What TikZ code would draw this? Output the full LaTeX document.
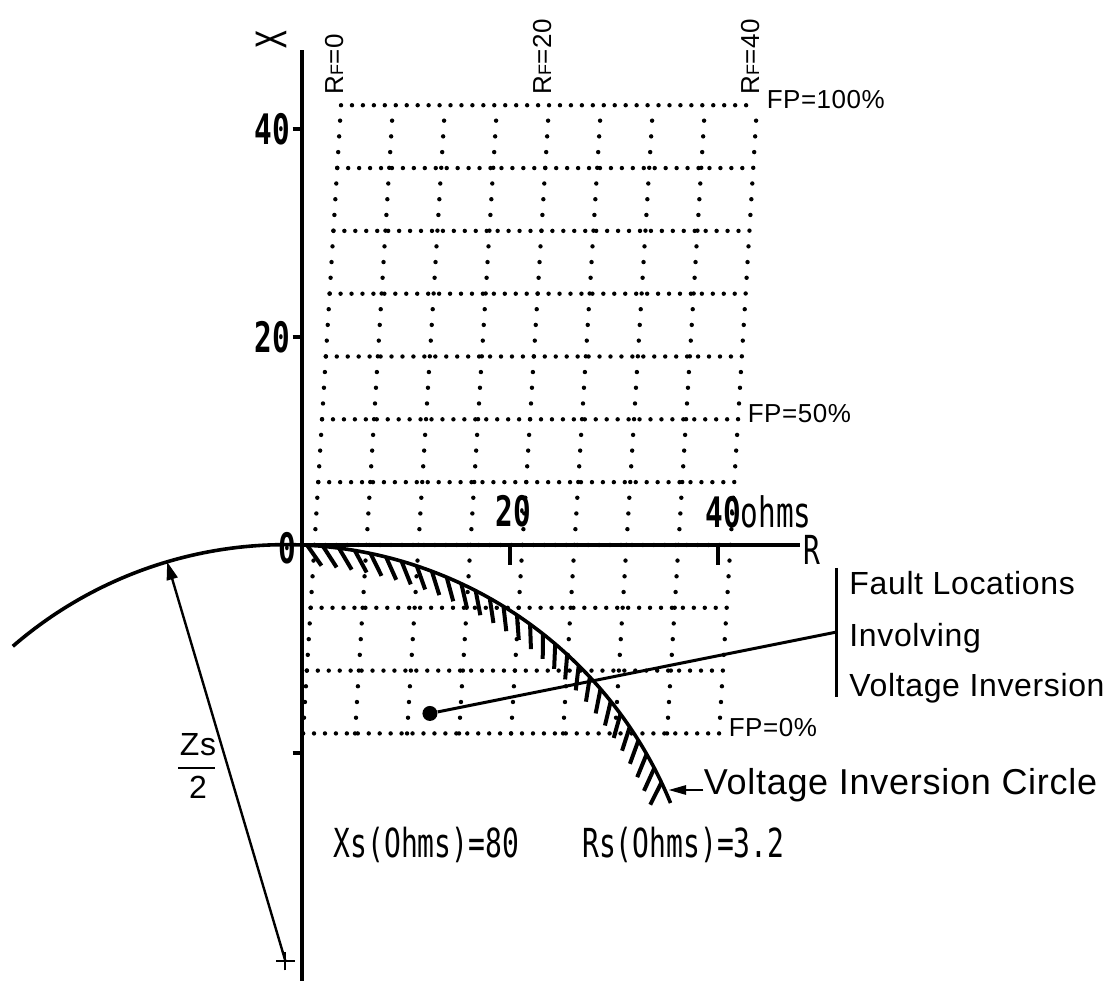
\documentclass[tikz,border=0pt]{standalone}
\usepackage{fontspec}
\setmainfont[LetterSpace=2]{Liberation Sans}
\newfontfamily\plotfont[FakeStretch=0.7]{DejaVu Sans Mono}
\usetikzlibrary{arrows.meta,positioning}

\tikzset{
  gridrow/.style={line width=2.2pt, line cap=round, dash pattern=on 0pt off 5.474pt},
  gridcol/.style={line width=2.2pt, line cap=round, dash pattern=on 0pt off 7.87pt},
  axis/.style={line width=1.6pt},
  curve/.style={line width=1.8pt},
  hatch/.style={line width=2pt},
  plot/.style={font=\plotfont\fontsize{21}{21}\selectfont, inner sep=0pt},
  plotsmall/.style={font=\plotfont\fontsize{20}{20}\selectfont, inner sep=0pt},
  lab/.style={font=\fontsize{16}{16}\selectfont, inner sep=0pt},
  biglab/.style={font=\fontsize{18}{18}\selectfont, inner sep=0pt},
  fplab/.style={font=\fontsize{13}{13}\selectfont, inner sep=0pt, anchor=base west},
  rflab/.style={font=\fontsize{13}{13}\selectfont, inner sep=0pt, anchor=base west, rotate=90},
}
\newcommand{\rfsub}{{\fontsize{9}{9}\selectfont F}}

\begin{document}
\begin{tikzpicture}[x=5.2pt, y=5.2pt, >=Stealth]
\useasboundingbox (-29.04,-41.92) rectangle (78.65,52.4);

% fault positions: rows of FP, columns of RF
\foreach \k in {0,...,10}
  \draw[gridrow] ({0.1+0.365*\k},{-18.12+6.04*\k}) -- ++(40,0);
\foreach \i in {0,...,8}
  \draw[gridcol] ({0.1+5*\i},-18.12) -- ++(3.65,60.4);

% axes
\draw[axis] (0,-41.92) -- (0,47.6);
\draw[axis] (0,0) -- (47.9,0);
\foreach \y in {40,20,-20} \draw[axis] (-0.9,\y) -- (0,\y);
\foreach \x in {20,40} \draw[axis] (\x,0) -- (\x,-1.9);

\node[plot, rotate=90] (xlab) at (-2.98,48.6) {X};
\node[plotsmall] (rlab) at (49.0,-0.5) {R};
\node[plot, anchor=east] (y40) at (-1.1,40) {\bfseries 40};
\node[plot, anchor=east] (y20) at (-1.1,20) {\bfseries 20};
\node[plot, anchor=east] (y0) at (-0.5,-0.3) {\bfseries 0};
\node[plot] (x20) at (20.3,3.2) {\bfseries 20};
\node[plot, anchor=west] (x40) at (38.75,3.2) {\bfseries 40\mdseries ohms};

% grid labels
\node[fplab] (fp100) at (44.65,41.98) {FP=100\%};
\node[fplab] (fp50) at (42.83,11.78) {FP=50\%};
\node[fplab] (fp0) at (41.0,-18.42) {FP=0\%};
\node[rflab] (rf0) at (3.95,43.3) {R\rfsub=0};
\node[rflab] (rf20) at (23.95,43.3) {R\rfsub=20};
\node[rflab] (rf40) at (43.95,43.3) {R\rfsub=40};

% voltage inversion circle
\coordinate (zc) at (-1.6,-40);
\draw[curve] (zc) ++(130.9:40.03) arc[start angle=130.9, end angle=22.3, radius=40.03];
\foreach \a in {87,84.8,...,24}
  \draw[hatch] (zc) ++(\a:40.03) -- ++({\a+218}:2.4);
\draw[line width=1pt] (zc) +(-0.9,0) -- +(0.9,0) (zc) +(0,-0.9) -- +(0,0.9);
\path (zc) ++(106.5:40.03) coordinate (rtip);
\draw[line width=1.2pt, -{Triangle[length=9pt,width=5.5pt]}] (zc) -- (rtip);
\node[lab] (zsnum) at (-10.0,-19.2) {Zs};
\node[lab] (zsden) at (-10.0,-23.3) {2};
\draw[line width=1.4pt] (-11.9,-21.44) -- (-8.4,-21.44);

\node[biglab, anchor=base west] (vic) at (38.6,-24.0) {Voltage Inversion Circle};
\coordinate (vtip) at (35.2,-23.56);
\draw[line width=1.4pt, -{Triangle[length=9pt,width=4.5pt]}] (vic.west |- vtip) -- (vtip);

% fault locations with voltage inversion
\node[circle, fill, inner sep=0pt, minimum size=7.5pt] (fl) at (12.3,-16.2) {};
\coordinate (bktop) at (51.4,-2.2);
\coordinate (bkbot) at (51.4,-14.6);
\coordinate (bk) at (51.4,-8.37);
\draw[line width=1.5pt] (bktop) -- (bkbot);
\draw[line width=1.5pt] (fl) -- (bk);
\node[lab, anchor=base west] (fl1) at (52.6,-4.8) {Fault Locations};
\node[lab, anchor=base west] (fl2) at (52.6,-9.8) {Involving};
\node[lab, anchor=base west] (fl3) at (52.6,-14.6) {Voltage Inversion};

\node[plotsmall, anchor=west] (xs) at (3.0,-28.85) {Xs(Ohms)=80};
\node[plotsmall, anchor=west] (rs) at (26.9,-28.85) {Rs(Ohms)=3.2};
\end{tikzpicture}
\end{document}
